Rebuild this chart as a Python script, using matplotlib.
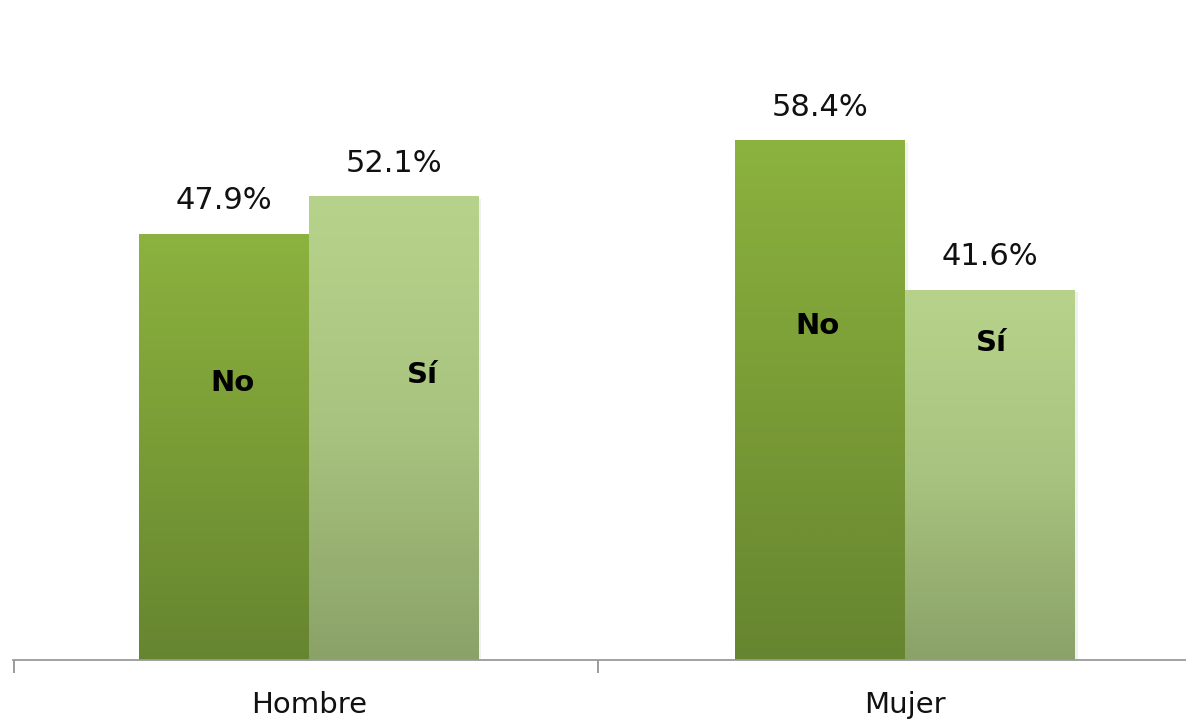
import numpy as np
import matplotlib
matplotlib.use("Agg")
import matplotlib.pyplot as plt
from matplotlib.colors import LinearSegmentedColormap

categories = ["Hombre", "Mujer"]
series = ["No", "Sí"]
values_no = [47.9, 58.4]
values_si = [52.1, 41.6]
value_labels_no = ["47.9%", "58.4%"]
value_labels_si = ["52.1%", "41.6%"]
# in-bar label heights (data units)
inlabel_y_no = [31.1, 37.5]
inlabel_y_si = [32.0, 35.6]
inlabel_dx_no = [0.013, -0.004]
inlabel_dx_si = [0.047, 0.002]

W, H = 1186, 723
fig = plt.figure(figsize=(W / 100, H / 100), dpi=100)
fig.patch.set_facecolor("white")

px_per_unit_y = 8.9
ax = fig.add_axes([13 / W, (H - 660) / H, (W - 13) / W, 660 / H])
ax.set_ylim(0, 660 / px_per_unit_y)
ax.set_xlim(-0.497, 1.471)
ax.set_facecolor("none")

bw = 0.285
x = np.arange(len(categories))

cmap_no = LinearSegmentedColormap.from_list("no", ["#668530", "#7a9c36", "#8cb23f"])
cmap_si = LinearSegmentedColormap.from_list("si", ["#8aa268", "#a8c37f", "#b7d38b"])

def grad_bar(xc, h, cmap):
    x0, x1 = xc - bw / 2, xc + bw / 2
    sh = plt.Rectangle((x0 + 0.004, 0), bw, h - 0.3, facecolor="#000000", alpha=0.06,
                       edgecolor="none", zorder=1)
    ax.add_patch(sh)
    grad = np.linspace(0, 1, 256).reshape(-1, 1)
    im = ax.imshow(grad, cmap=cmap, aspect="auto", origin="lower",
                   extent=[x0, x1, 0, h], zorder=2, interpolation="bicubic")
    rect = plt.Rectangle((x0, 0), bw, h, transform=ax.transData, facecolor="none",
                         edgecolor="none")
    ax.add_patch(rect)
    im.set_clip_path(rect)

for i in range(len(categories)):
    xn = x[i] - bw / 2
    xs = x[i] + bw / 2
    grad_bar(xn, values_no[i], cmap_no)
    grad_bar(xs, values_si[i], cmap_si)
    ax.text(xn, values_no[i] + 2.1, value_labels_no[i], ha="center", va="bottom",
            fontsize=22, color="#111111", zorder=5)
    ax.text(xs, values_si[i] + 2.1, value_labels_si[i], ha="center", va="bottom",
            fontsize=22, color="#111111", zorder=5)
    ax.text(xn + inlabel_dx_no[i], inlabel_y_no[i], series[0], ha="center", va="center",
            fontsize=21, fontweight="bold", color="black", zorder=5)
    ax.text(xs + inlabel_dx_si[i], inlabel_y_si[i], series[1], ha="center", va="center",
            fontsize=21, fontweight="bold", color="black", zorder=5)

ax.set_xlim(-0.497, 1.471)
ax.set_ylim(0, 660 / px_per_unit_y)

for s in ["top", "right", "left"]:
    ax.spines[s].set_visible(False)
ax.spines["bottom"].set_color("#9a9a9a")
ax.spines["bottom"].set_linewidth(1.3)
ax.yaxis.set_visible(False)

ax.set_xticks(x)
ax.set_xticklabels(categories, fontsize=21, color="#111111")
ax.tick_params(axis="x", which="major", length=0, pad=22)
ax.set_xticks([-0.495, 0.485], minor=True)
ax.tick_params(axis="x", which="minor", length=9.5, width=1.2, color="#8a8a8a")

fig.savefig("out.png", dpi=100, facecolor="white")
